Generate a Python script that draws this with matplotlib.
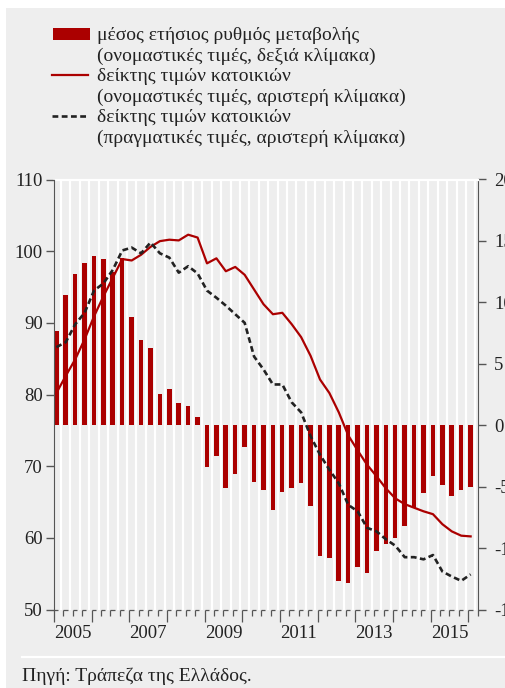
import numpy as np
import matplotlib.pyplot as plt
from matplotlib.patches import Rectangle
from matplotlib.lines import Line2D

plt.rcParams['font.family'] = ['Liberation Serif', 'DejaVu Serif']

# quarterly data, 2005Q1 - 2016Q1
change = [7.7, 10.6, 12.3, 13.2, 13.8, 13.5, 12.5, 13.6, 8.8, 6.9,
          6.25, 2.5, 2.95, 1.8, 1.6, 0.7, -3.4, -2.5, -5.1, -4.0,
          -1.8, -4.65, -5.25, -6.9, -5.4, -5.1, -4.7, -6.6, -10.65, -10.8,
          -12.7, -12.85, -11.5, -12.0, -10.2, -9.65, -9.2, -8.2, -6.7, -5.55,
          -4.1, -4.9, -5.8, -5.25, -5.05]
nominal = [80.2, 82.6, 84.9, 87.7, 90.9, 93.7, 96.3, 98.9, 98.7, 99.5,
           100.6, 101.4, 101.6, 101.5, 102.3, 101.9, 98.3, 99.0, 97.2, 97.8,
           96.7, 94.65, 92.6, 91.2, 91.4, 89.8, 88.0, 85.4, 82.1, 80.2,
           77.5, 74.3, 72.2, 70.2, 68.6, 66.9, 65.5, 64.7, 64.2, 63.7,
           63.3, 61.9, 60.9, 60.3, 60.2]
real = [86.6, 87.3, 89.8, 91.4, 94.5, 95.5, 97.4, 100.1, 100.5, 99.7,
        101.2, 99.7, 99.1, 97.0, 97.9, 96.9, 94.5, 93.5, 92.4, 91.2,
        90.0, 85.3, 83.5, 81.4, 81.4, 78.9, 77.5, 74.2, 71.6, 69.5,
        67.6, 64.6, 63.7, 61.4, 60.9, 59.8, 58.9, 57.3, 57.3, 57.0,
        57.6, 55.3, 54.6, 54.0, 54.9]
year_labels = ['2005', '2007', '2009', '2011', '2013', '2015']
right_ticks = [-15, -10, -5, 0, 5, 10, 15, 20]
left_ticks = [50, 60, 70, 80, 90, 100, 110]

legend_lines = ['μέσος ετήσιος ρυθμός μεταβολής',
                '(ονομαστικές τιμές, δεξιά κλίμακα)',
                'δείκτης τιμών κατοικιών',
                '(ονομαστικές τιμές, αριστερή κλίμακα)',
                'δείκτης τιμών κατοικιών',
                '(πραγματικές τιμές, αριστερή κλίμακα)']
source = 'Πηγή: Τράπεζα της Ελλάδος.'

RED = '#ab0000'
BG = '#eeeeee'
DARK = '#222222'
AX = '#555555'
W, H = 506, 688

fig = plt.figure(figsize=(W / 100, H / 100), dpi=100)
fig.patches.append(Rectangle((6 / W, 0), 1, 1 - 8 / H, transform=fig.transFigure,
                             facecolor=BG, edgecolor='none', zorder=-10))

ax = fig.add_axes([54 / W, 1 - 609.5 / H, 423.7 / W, 430 / H])
ax.set_facecolor(BG)
x = np.arange(len(change))
ax.bar(x, change, width=0.48, align='edge', color=RED, zorder=2)
ax.set_xlim(0, 45)
ax.set_ylim(-15, 20)

# white vertical grid between the bars
ax.set_xticks(x + 0.75, minor=True)
ax.grid(which='minor', axis='x', color='white', lw=1.6)
ax.set_axisbelow(True)
ax.tick_params(axis='x', which='minor', length=0)
ax.set_xticks([2, 10, 18, 26, 34, 42])
ax.set_xticklabels(year_labels)
ax.tick_params(axis='x', which='major', length=0, pad=11, labelsize=13.5,
               labelcolor=DARK)

ax2 = ax.twinx()
ax2.plot(x + 0.25, nominal, color=RED, lw=1.6, zorder=3)
ax2.plot(x + 0.25, real, color=DARK, lw=1.9, ls=(0, (2.2, 1.3)), zorder=3)
ax2.set_ylim(50, 110)
ax2.set_yticks(left_ticks)

ax.yaxis.tick_right()
ax.set_yticks(right_ticks)
ax.set_yticklabels([str(v) for v in right_ticks])
ax.tick_params(axis='y', length=6, width=1, color=AX, pad=6, labelsize=13.5,
               labelcolor=DARK)
ax2.yaxis.tick_left()
ax2.tick_params(axis='y', length=6, width=1, color=AX, pad=2, labelsize=13.5,
                labelcolor=DARK)

for s in ['left', 'bottom']:
    ax.spines[s].set_visible(False)
ax.spines['top'].set_color('white')
ax.spines['top'].set_linewidth(1.6)
ax.spines['right'].set_color(AX)
for s in ['right', 'bottom', 'top']:
    ax2.spines[s].set_visible(False)
ax2.spines['left'].set_color(AX)

# quarter tick marks along the bottom
trans = ax.get_xaxis_transform()
qt = np.arange(46)
tick_len = np.where(qt % 4 == 0, 12, 6) / 430
ax.vlines(qt, 0, -tick_len, transform=trans, color=AX, lw=0.9, clip_on=False)
ax.hlines(np.zeros(45), qt[:-1], qt[:-1] + 0.45, transform=trans, color=AX,
          lw=0.9, clip_on=False)

# legend
baselines = [40, 61, 81, 101.5, 122, 142.5]
for txt, yb in zip(legend_lines, baselines):
    fig.text(97 / W, 1 - yb / H, txt, va='baseline', ha='left',
             fontsize=14, color=DARK)
fig.patches.append(Rectangle((53 / W, 1 - 40 / H), 37 / W, 12 / H,
                             transform=fig.transFigure, facecolor=RED,
                             edgecolor='none'))
fig.lines.append(Line2D([52 / W, 88 / W], [1 - 75 / H] * 2, color=RED, lw=1.6,
                        transform=fig.transFigure))
fig.lines.append(Line2D([52 / W, 88 / W], [1 - 116 / H] * 2, color=DARK, lw=1.9,
                        ls=(0, (2.2, 1.3)), transform=fig.transFigure))

# source
fig.lines.append(Line2D([22 / W, 1], [1 - 657 / H] * 2, color='white', lw=1.6,
                        transform=fig.transFigure))
fig.text(22 / W, 1 - 681 / H, source, va='baseline', ha='left', fontsize=14,
         color=DARK)

fig.savefig('out.png', dpi=100)
